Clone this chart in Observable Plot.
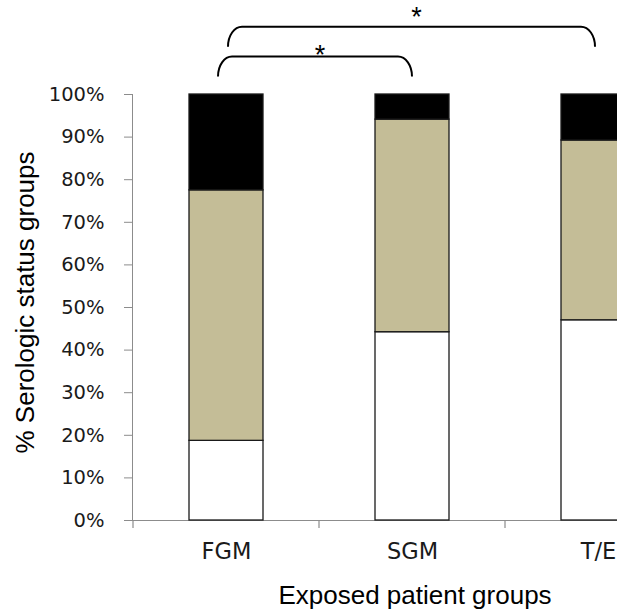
<!DOCTYPE html>
<html>
<head>
<meta charset="utf-8">
<script src="https://cdn.jsdelivr.net/npm/d3@7"></script>
<script src="https://cdn.jsdelivr.net/npm/@observablehq/plot@0.6"></script>
<style>
  html, body { margin: 0; padding: 0; background: #fff; overflow: hidden; }
  #chart svg { overflow: hidden; display: block; }
  g[aria-label^="y-axis"] text { fill: #1a1a1a; }
  g[aria-label^="y-axis"] path, g[aria-label^="y-axis"] line { stroke: #8c8c8c; }
</style>
</head>
<body>
<div id="chart"></div>
<script>
// ---- data ----
const groups = ["FGM", "SGM", "T/E"];
const statuses = ["Status A", "Status B", "Status C"]; // bottom → top
const statusA = [18.7, 44.2, 47.0];   // white
const statusB = [58.8, 49.9, 42.2];   // tan
const statusC = [22.5, 5.9, 10.8];    // black
const yTicks = [0, 10, 20, 30, 40, 50, 60, 70, 80, 90, 100];
const bracketFrom = ["FGM", "FGM"];
const bracketTo = ["SGM", "T/E"];
const bracketLevel = [108.8, 115.8];   // % units (above 100%)
const starLevel = [110.1, 118.9];
const starText = ["*", "*"];

const series = [statusA, statusB, statusC];
const rows = [];
statuses.forEach((s, si) => groups.forEach((g, gi) => rows.push({group: g, status: s, value: series[si][gi]})));
const brackets = bracketFrom.map((f, i) => ({from: f, to: bracketTo[i], level: bracketLevel[i], star: starLevel[i], text: starText[i]}));

// custom decorations using Plot's scales
function decorations(index, scales) {
  const x = scales.x, y = scales.y;
  const bw = typeof x.bandwidth === "function" ? x.bandwidth() : 0;
  const step = typeof x.step === "function" ? x.step() : bw;
  const g = d3.create("svg:g");
  // category boundary ticks on the x axis
  groups.forEach(c => {
    const bx = x(c) + bw / 2 - step / 2;
    g.append("line").attr("x1", bx).attr("x2", bx).attr("y1", y(0)).attr("y2", y(0) + 8)
      .attr("stroke", "#8c8c8c").attr("stroke-width", 1.2);
  });
  // brackets
  const nudgeL = [-8, 2], nudgeR = [0, -3];
  brackets.forEach((b, i) => {
    const x1 = x(b.from) + bw / 2 + nudgeL[i];
    const x2 = x(b.to) + bw / 2 + nudgeR[i];
    const yt = y(b.level), yb = yt + 20, r = 14;
    g.append("path")
      .attr("d", `M${x1},${yb} A${r},${yb - yt} 0 0 1 ${x1 + r},${yt} L${x2 - r},${yt} A${r},${yb - yt} 0 0 1 ${x2},${yb}`)
      .attr("fill", "none").attr("stroke", "#000").attr("stroke-width", 2);
    g.append("text")
      .attr("x", (x1 + x2) / 2 + 5).attr("y", y(b.star) + 13)
      .attr("text-anchor", "middle")
      .attr("font-family", "Liberation Sans, Arial, sans-serif")
      .attr("font-size", 27).attr("fill", "#000")
      .text(b.text);
  });
  return g.node();
}

const chart = Plot.plot({
  width: 617,
  height: 611,
  marginTop: 94,
  marginBottom: 91,
  marginLeft: 132,
  marginRight: 0,
  style: {fontFamily: "DejaVu Sans, sans-serif", fontSize: "19.5px", background: "#fff", color: "#8c8c8c"},
  x: {domain: groups, range: [132, 692], paddingInner: 0.6, paddingOuter: 0.3, axis: null},
  y: {domain: [0, 100], ticks: yTicks, tickFormat: d => d + "%", tickSize: 8, tickPadding: 20, label: null, line: true},
  color: {domain: statuses, range: ["#ffffff", "#c4bd97", "#000000"]},
  marks: [
    Plot.ruleY([0], {stroke: "#8c8c8c", strokeWidth: 1.2}),
    Plot.ruleX([0], {frameAnchor: "left", y1: 0, y2: -1.9, stroke: "#8c8c8c", strokeWidth: 1.2}),
    Plot.barY(rows, {x: "group", y: "value", fill: "status", stroke: "#1a1a1a", strokeWidth: 1.3}),
    Plot.text(groups, {x: d => d, frameAnchor: "bottom", dy: 38, text: d => d, fill: "#1a1a1a", fontSize: 22.5, fontFamily: "DejaVu Sans, sans-serif"}),
    Plot.text(["Exposed patient groups"], {frameAnchor: "bottom", textAnchor: "middle", dx: 40, dy: 83, text: d => d, fill: "#000", fontSize: 26, fontFamily: "Liberation Sans, Arial, sans-serif"}),
    Plot.text(["% Serologic status groups"], {frameAnchor: "left", textAnchor: "middle", dx: -107, dy: -5, rotate: -90, text: d => d, fill: "#000", fontSize: 26, fontFamily: "Liberation Sans, Arial, sans-serif"}),
    decorations
  ]
});
document.getElementById("chart").appendChild(chart);
</script>
</body>
</html>
